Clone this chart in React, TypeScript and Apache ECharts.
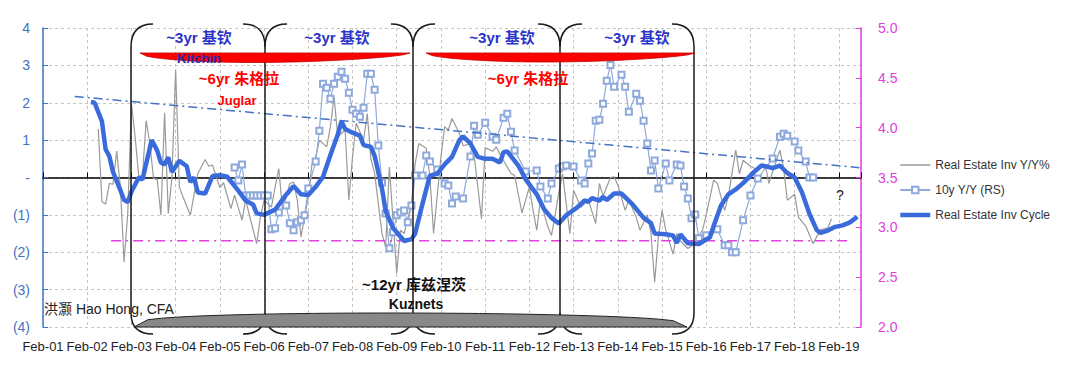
import React, { useEffect, useRef } from 'react';
import * as echarts from 'echarts';

// x = months since Feb-2001
const yearLabels = ['Feb-01','Feb-02','Feb-03','Feb-04','Feb-05','Feb-06','Feb-07','Feb-08','Feb-09','Feb-10','Feb-11','Feb-12','Feb-13','Feb-14','Feb-15','Feb-16','Feb-17','Feb-18','Feb-19'];

const cycleMonth = [13,14,16,17,18,19,21,22,23,24,26,27,29.5,31,32,33,34,35,37,39,40,41,42,44,46,48,50,53,55,57,58,60,63,66,68,70,72,74,76,78,80,81,82,84,86,87,89,90,92,93,95,97,98,100,101,103,105,107,109,111,113,114,116,118,120,122,124,125,126,129,131,134,136,138,140,142,145,147,148,149,151,152,153,155,157,160,163,165,166,169,171,172,173,175,178,180,181,182,184,186,188,190,193,195,197,198,200,202,204,206,208,210,211,213,215,217,219,221];
const cycleValue = [2.02,2.0,1.5,0.75,0.57,0.15,-0.34,-0.6,-0.66,-0.38,0.0,-0.05,1.0,0.72,0.4,0.35,0.54,0.15,0.45,0.3,-0.12,0.0,-0.4,-0.43,0.04,0.06,0.02,-0.35,-0.62,-0.72,-0.96,-1.0,-0.86,-0.46,-0.23,-0.45,-0.47,-0.25,0.02,0.6,1.15,1.5,1.3,1.2,1.12,0.87,0.82,0.58,-0.3,-0.9,-1.35,-1.58,-1.7,-1.65,-1.5,-0.7,0.05,0.1,0.35,0.55,1.0,1.1,0.91,0.55,0.5,0.5,0.4,0.68,0.7,0.32,-0.05,-0.45,-0.85,-1.08,-1.23,-1.01,-0.8,-0.61,-0.65,-0.55,-0.62,-0.52,-0.6,-0.43,-0.43,-0.72,-1.08,-1.22,-1.5,-1.52,-1.55,-1.75,-1.52,-1.76,-1.78,-1.66,-1.6,-1.3,-0.75,-0.45,-0.32,-0.15,0.15,0.32,0.28,0.25,0.32,0.12,0.0,-0.4,-0.97,-1.41,-1.48,-1.42,-1.32,-1.28,-1.2,-1.05];

const reYoYMonth = [15,16,17,18,19,20,21,22,23,24,25,26,27,28,29,30,31,32,33,34,35,36,37,38,40,41,42,44,45,46,48,49,51,52,54,55,56,58,59,60,62,63,64,65,67,68,69,70,72,73,74,75,77,78,79,80,82,83,84,85,87,88,89,90,91,92,93,94,96,97,98,100,101,102,104,105,106,108,109,110,111,113,114,116,117,119,120,122,123,125,127,128,130,132,133,134,135,137,138,139,140,141,143,144,146,148,150,151,152,154,155,156,158,159,161,162,164,165,166,167,168,169,171,172,173,175,177,179,180,182,183,185,186,188,189,190,192,194,196,197,199,200,201,202,204,205,207,209,211,213,214];
const reYoYValue = [1.3,-0.65,-0.71,-0.16,-0.18,0.71,-0.25,-2.26,-0.97,1.98,1.09,0.02,0.06,1.52,0.91,-0.03,-0.05,-1.01,1.73,-0.97,0.02,2.89,-0.25,-0.52,-1.01,-0.45,0.1,0.48,0.3,0.33,-0.27,-0.14,-0.83,-0.47,-1.14,-0.6,-1.0,-1.77,-1.05,-0.61,-0.79,-0.25,0.24,-0.88,-0.16,-0.12,-0.6,-1.59,-0.52,0.37,0.55,1.0,0.82,1.36,2.16,1.09,1.27,-0.61,0.55,1.45,1.0,1.71,0.5,0.11,-0.7,-1.5,-1.86,0.28,-2.57,-1.41,-1.5,-0.7,0.37,0.91,0.78,0.02,-1.5,0.55,1.36,1.27,1.58,1.18,0.85,0.9,0.6,-1.1,0.8,0.7,0.82,0.45,0.11,0.05,-0.95,-0.25,-0.88,-1.41,-0.6,-1.32,-1.55,-1.0,-0.4,0.1,-1.5,-0.34,-0.8,-0.6,-1.23,-0.16,-0.5,0.0,0.02,-0.2,-0.88,-0.6,-1.06,-1.41,-1.0,-1.5,-2.8,-1.6,-0.88,-1.4,-2.05,-1.5,-1.7,-1.9,-1.75,-1.4,-1.0,-0.07,-0.15,-0.88,-0.5,0.73,0.1,0.46,0.3,0.2,0.35,-0.16,0.45,0.73,0.25,-0.61,-0.45,-1.06,-1.3,-1.77,-1.4,-1.35,-1.1];

const bondMonth = [52,53,54,55,56,57,58,59,60,61,62,63,64,66,67,68,69,70,71,72,74,75,76,77,78,79,80,81,82,83,84,85,86,87,88,89,90,91,92,93,94,95,96,97,98,99,100,101,103,104,105,107,109,110,111,112,114,116,117,118,120,122,123,125,126,127,128,131,134,135,137,138,140,141,142,144,146,147,148,149,150,151,152,153,154,155,157,158,159,161,162,163,164,165,166,167,169,170,172,173,174,175,176,177,178,180,183,185,186,187,188,190,192,194,198,200,201,202,204,205,207,208,209];
const bondValue = [3.6,3.47,3.63,3.32,3.32,3.32,3.32,3.32,3.32,3.32,2.98,2.99,3.15,3.22,3.04,2.97,3.05,3.07,3.12,3.39,3.66,3.97,4.44,4.4,4.29,4.44,4.51,4.56,4.49,4.35,4.18,4.14,4.11,4.2,4.54,4.54,4.38,3.82,3.45,3.14,2.79,2.95,3.12,3.15,3.17,3.05,3.22,3.52,3.52,3.72,3.66,3.58,3.44,3.42,3.24,3.31,3.29,3.71,4.02,3.93,4.05,3.91,3.88,4.1,4.14,3.96,3.77,3.56,3.57,3.41,3.29,3.44,3.59,3.61,3.62,3.61,3.47,3.44,3.64,3.74,4.07,4.08,4.24,4.47,4.63,4.41,4.53,4.41,4.16,4.34,4.27,4.07,3.84,3.57,3.67,3.39,3.64,3.47,3.63,3.62,3.41,3.29,3.09,3.13,2.89,2.92,2.98,2.82,2.82,2.75,2.75,3.07,3.32,3.49,3.69,3.91,3.94,3.92,3.86,3.77,3.66,3.5,3.5];

const trendMonth = [8.6, 222];
const trendValue = [2.17, 0.26];
const floorMonth = [18.5, 219];
const floorValue = [-1.69, -1.69];

const FONT = '"Liberation Sans", "Noto Sans CJK SC", sans-serif';
const CJK = '"Liberation Sans", "Noto Sans CJK SC", sans-serif';

function zip(a: number[], b: number[]) {
  return a.map((x, i) => [x, b[i]]);
}

function bracketElements() {
  const xs = [131, 265, 413, 560, 694];
  const yTop = 24, yTopC = 47, yBotC = 313, yBot = 334, r = 22;
  const st = { stroke: '#1a1a1a', lineWidth: 1.5, fill: 'none' };
  const els: any[] = [];
  xs.forEach((x) => els.push({ type: 'line', shape: { x1: x, y1: yTopC, x2: x, y2: yBotC }, style: st, z: 50 }));
  for (let i = 0; i < xs.length - 1; i++) {
    const x0 = xs[i], x1 = xs[i + 1];
    els.push({ type: 'bezierCurve', shape: { x1: x0, y1: yTopC, x2: x0 + r, y2: yTop, cpx1: x0, cpy1: yTop }, style: st, z: 50 });
    els.push({ type: 'bezierCurve', shape: { x1: x1 - r, y1: yTop, x2: x1, y2: yTopC, cpx1: x1, cpy1: yTop }, style: st, z: 50 });
    els.push({ type: 'bezierCurve', shape: { x1: x0, y1: yBotC, x2: x0 + r, y2: yBot, cpx1: x0, cpy1: yBot }, style: st, z: 50 });
    els.push({ type: 'bezierCurve', shape: { x1: x1, y1: yBotC, x2: x1 - r, y2: yBot, cpx1: x1, cpy1: yBot }, style: st, z: 50 });
  }
  return els;
}

function lensPoints(x0: number, x1: number, base: number, depth: number, pw: number, skew: number) {
  const pts: number[][] = [];
  const n = 40;
  for (let i = 0; i <= n; i++) {
    const t = i / n;
    pts.push([x0 + t * (x1 - x0), base]);
  }
  for (let i = n; i >= 0; i--) {
    const t = i / n;
    const ts = Math.pow(t, skew);
    pts.push([x0 + t * (x1 - x0), base + depth * Math.pow(Math.sin(Math.PI * ts), pw)]);
  }
  return pts;
}

function textEl(text: string, x: number, y: number, color: string, size: number, bold: boolean, align = 'center') {
  return {
    type: 'text', x, y, z: 60,
    style: { text, fill: color, fontSize: size, fontWeight: bold ? 'bold' : 'normal', fontFamily: CJK, align, verticalAlign: 'middle' },
  };
}

export default function App() {
  const ref = useRef<HTMLDivElement>(null);
  useEffect(() => {
    if (!ref.current) return;
    const chart = echarts.init(ref.current, null, { renderer: 'svg' });
    const grid = '#c6c6c6';
    const blueAxis = '#4472C4';
    const magenta = '#E040E0';
    const option: any = {
      animation: false,
      backgroundColor: '#ffffff',
      textStyle: { fontFamily: FONT },
      grid: { left: 43, right: 219, top: 28, bottom: 43, containLabel: false },
      legend: {
        data: [
          { name: 'Real Estate Inv Y/Y%', itemStyle: { opacity: 0 }, lineStyle: { width: 1.5 } },
          { name: '10y Y/Y (RS)' },
          { name: 'Real Estate Inv Cycle', itemStyle: { opacity: 0 }, lineStyle: { width: 4.5 } },
        ],
        orient: 'vertical', left: 893, top: 154, itemWidth: 30, itemHeight: 8, itemGap: 13,
        textStyle: { fontSize: 12, color: '#333', fontFamily: FONT },
      },
      xAxis: [
        {
          type: 'value', min: 0, max: 222, interval: 12, position: 'bottom',
          axisLine: { show: false, onZero: false }, axisTick: { show: false },
          axisLabel: {
            fontSize: 13, color: '#222', margin: 13, fontFamily: FONT,
            formatter: (v: number) => (v % 12 === 0 ? yearLabels[v / 12] || '' : ''),
          },
          splitLine: { show: true, lineStyle: { color: grid, type: [3, 3], width: 1 } },
        },
        {
          type: 'value', min: 0, max: 222, interval: 12, position: 'bottom',
          axisLine: { show: true, onZero: true, onZeroAxisIndex: 0, lineStyle: { color: '#000', width: 1.5 } },
          axisTick: { show: true, inside: true, length: 5, lineStyle: { color: '#000', width: 1 } },
          axisLabel: { show: false }, splitLine: { show: false },
        },
      ],
      yAxis: [
        {
          type: 'value', min: -4, max: 4, interval: 1, position: 'left',
          axisLine: { show: true, onZero: false, lineStyle: { color: blueAxis, width: 1.5 } },
          axisTick: { show: true, inside: true, length: 5, lineStyle: { color: blueAxis } },
          axisLabel: {
            color: blueAxis, fontSize: 14, margin: 13, fontFamily: FONT,
            formatter: (v: number) => (v > 0 ? String(v) : v === 0 ? '-' : '(' + -v + ')'),
          },
          splitLine: { show: true, lineStyle: { color: grid, type: [3, 3], width: 1 } },
        },
        {
          type: 'value', min: 2, max: 5, interval: 0.5, position: 'right',
          axisLine: { show: true, onZero: false, lineStyle: { color: magenta, width: 1.5 } },
          axisTick: { show: true, inside: true, length: 5, lineStyle: { color: magenta } },
          axisLabel: { color: magenta, fontSize: 14, margin: 17, fontFamily: FONT, formatter: (v: number) => v.toFixed(1) },
          splitLine: { show: false },
        },
      ],
      series: [
        {
          name: 'Real Estate Inv Y/Y%', type: 'line', data: zip(reYoYMonth, reYoYValue), symbol: 'none',
          lineStyle: { color: '#9a9a9a', width: 1.2 }, itemStyle: { color: '#9a9a9a' }, z: 2,
        },
        {
          name: '10y Y/Y (RS)', type: 'line', yAxisIndex: 1, data: zip(bondMonth, bondValue),
          symbol: 'emptyRect', symbolSize: 6, showSymbol: true,
          lineStyle: { color: '#8EA9DB', width: 1.2 }, itemStyle: { color: '#8EA9DB', borderWidth: 1 }, z: 3,
        },
        {
          name: 'Real Estate Inv Cycle', type: 'line', data: zip(cycleMonth, cycleValue), symbol: 'none',
          lineStyle: { color: '#3A6BDC', width: 4.5 }, itemStyle: { color: '#3A6BDC' }, z: 5,
        },
        {
          name: 'trend', type: 'line', data: zip(trendMonth, trendValue), symbol: 'none', silent: true,
          lineStyle: { color: '#4472C4', width: 1.5, type: [9, 4, 2, 4] }, z: 4,
        },
        {
          name: 'floor', type: 'line', data: zip(floorMonth, floorValue), symbol: 'none', silent: true,
          lineStyle: { color: magenta, width: 1.5, type: [10, 5, 2, 5] }, z: 4,
        },
      ],
      graphic: [
        ...bracketElements(),
        { type: 'polygon', z: 52, shape: { points: lensPoints(140, 410, 53, 9.5, 0.6, 0.8) }, style: { fill: '#FF0000', stroke: '#C00000', lineWidth: 0.8 } },
        { type: 'polygon', z: 52, shape: { points: lensPoints(426, 695, 53, 9, 0.6, 0.85) }, style: { fill: '#FF0000', stroke: '#C00000', lineWidth: 0.8 } },
        { type: 'polygon', z: 52, shape: { points: lensPoints(134, 687, 327, -14, 0.3, 0.9) }, style: { fill: '#888888', stroke: '#222', lineWidth: 1 } },
        textEl('~3yr 基钦', 199, 37, '#2B35C8', 15, true),
        textEl('~3yr 基钦', 337, 37, '#2B35C8', 15, true),
        textEl('~3yr 基钦', 502, 37, '#2B35C8', 15, true),
        textEl('~3yr 基钦', 637, 37, '#2B35C8', 15, true),
        textEl('Kitchin', 199, 58, '#2A2AB0', 13, true),
        textEl('~6yr 朱格拉', 239, 78, '#FF0000', 15, true),
        textEl('Juglar', 237, 100, '#FF0000', 13, true),
        textEl('~6yr 朱格拉', 528, 78, '#FF0000', 15, true),
        textEl('~12yr 库兹涅茨', 414, 284, '#111', 15, true),
        textEl('Kuznets', 416, 304, '#111', 14, true),
        textEl('洪灏 Hao Hong, CFA', 44, 309, '#222', 14, false, 'left'),
        textEl('?', 840, 195, '#222', 14, false),
      ],
    };
    chart.setOption(option);
    return () => chart.dispose();
  }, []);
  return <div ref={ref} style={{ position: 'absolute', left: 0, top: 0, width: 1080, height: 370 }} />;
}
